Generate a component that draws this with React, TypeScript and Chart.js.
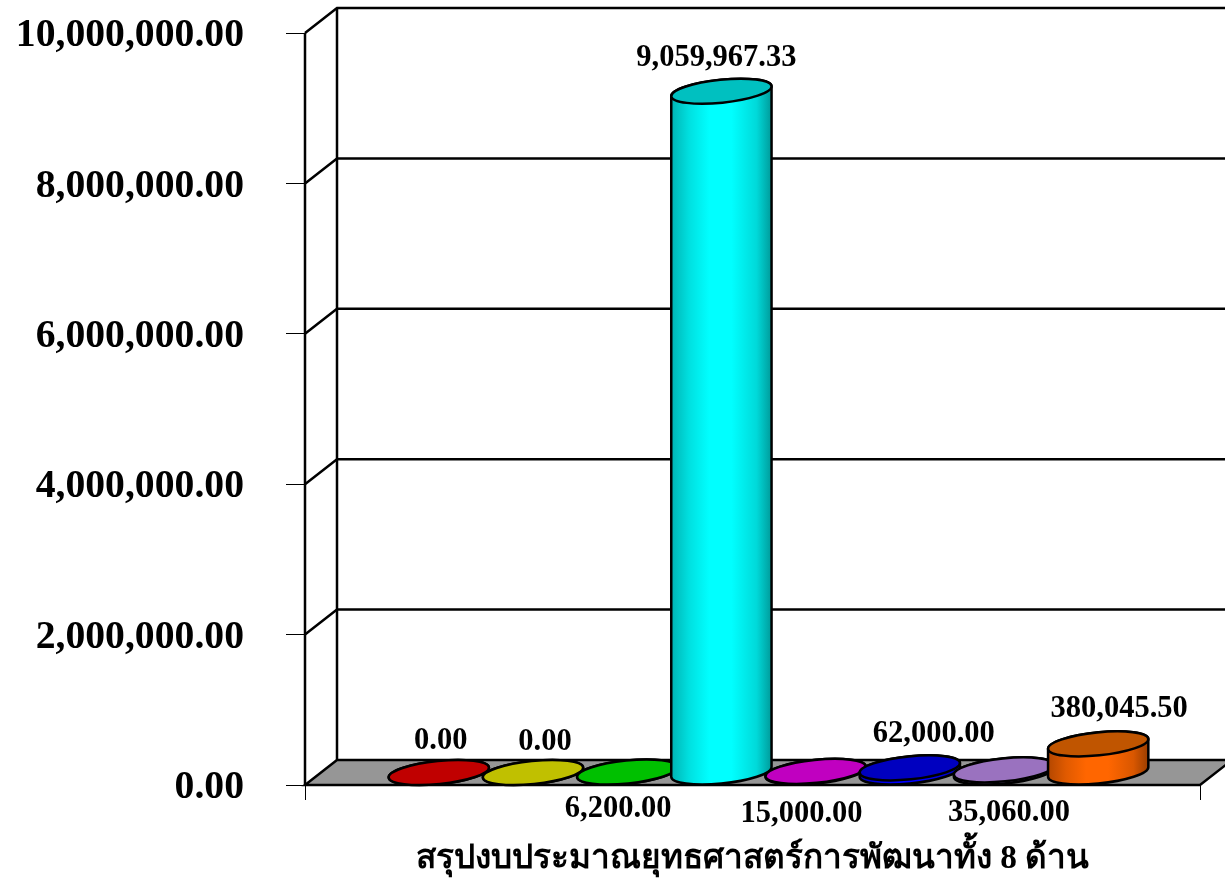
import React, { useEffect, useRef } from "react";
import { Chart, registerables } from "chart.js";

Chart.register(...registerables);

const categories = ["สรุปงบประมาณยุทธศาสตร์การพัฒนาทั้ง 8 ด้าน"];
const seriesNames = ["ด้านที่ 1", "ด้านที่ 2", "ด้านที่ 3", "ด้านที่ 4", "ด้านที่ 5", "ด้านที่ 6", "ด้านที่ 7", "ด้านที่ 8"];
const seriesValues = [0, 0, 6200, 9059967.33, 15000, 62000, 35060, 380045.5];
const sideColors = ["#ff0000", "#ffff00", "#00ff00", "#00ffff", "#ff00ff", "#0000ff", "#cc99ff", "#ff6600"];
const topColors = ["#c00000", "#c0c000", "#00c000", "#00c0c0", "#c000c0", "#0000c0", "#9a72bf", "#c05500"];
// Manual label offsets from the top centre of each cylinder (dx, dy)
const labelOffsets = [[2, -31], [12, -30], [-9, 37], [-5, -33], [-14, 43], [24, -34], [5, 43], [21, -35]];
const tickMax = 10000000;
const tickStep = 2000000;

const SERIF = '"Liberation Serif", "Noto Sans", serif';
const DEPTH_X = 32;
const DEPTH_Y = 25;
const Y_LABEL_SHIFT = 3;

const fmt = (v: number) =>
  v.toLocaleString("en-US", { minimumFractionDigits: 2, maximumFractionDigits: 2 });

function shade(hex: string, f: number) {
  const n = parseInt(hex.slice(1), 16);
  const r = Math.round(((n >> 16) & 255) * f);
  const g = Math.round(((n >> 8) & 255) * f);
  const b = Math.round((n & 255) * f);
  return `rgb(${r},${g},${b})`;
}

const box3d = {
  id: "box3d",
  beforeDraw(chart: any) {
    const items = chart.scales.y.getLabelItems(chart.chartArea);
    if (!items.__shifted) {
      items.forEach((it: any) => {
        it.options.translation[1] += Y_LABEL_SHIFT;
      });
      items.__shifted = true;
    }
  },
  beforeDatasetsDraw(chart: any) {
    const { ctx, scales } = chart;
    const y = scales.y;
    const left = chart.chartArea.left;
    const right = chart.chartArea.right;
    const y0 = y.getPixelForValue(0);
    const yTop = y.getPixelForValue(tickMax);
    ctx.save();
    ctx.strokeStyle = "#000";
    ctx.lineWidth = 2.5;
    ctx.lineJoin = "miter";
    // floor
    ctx.beginPath();
    ctx.moveTo(left, y0);
    ctx.lineTo(left + DEPTH_X, y0 - DEPTH_Y);
    ctx.lineTo(right + DEPTH_X, y0 - DEPTH_Y);
    ctx.lineTo(right, y0);
    ctx.closePath();
    ctx.fillStyle = "#969696";
    ctx.fill();
    ctx.stroke();
    // gridlines on the walls
    for (let v = tickStep; v <= tickMax; v += tickStep) {
      const p = y.getPixelForValue(v);
      ctx.beginPath();
      ctx.moveTo(left, p);
      ctx.lineTo(left + DEPTH_X, p - DEPTH_Y);
      ctx.lineTo(right + DEPTH_X, p - DEPTH_Y);
      ctx.stroke();
    }
    // wall uprights
    ctx.beginPath();
    ctx.moveTo(left, yTop);
    ctx.lineTo(left, y0);
    ctx.moveTo(left + DEPTH_X, yTop - DEPTH_Y);
    ctx.lineTo(left + DEPTH_X, y0 - DEPTH_Y);
    ctx.stroke();
    ctx.restore();
  },
  afterDatasetsDraw(chart: any) {
    const { ctx } = chart;
    const rot = (-5.8 * Math.PI) / 180;
    chart.data.datasets.forEach((ds: any, i: number) => {
      const bar = chart.getDatasetMeta(i).data[0];
      const cx = bar.x + DEPTH_X / 2;
      const rx = bar.width / 2;
      const ry = 11.5;
      const yBase = bar.base - DEPTH_Y / 2;
      const yTop = bar.y - DEPTH_Y / 2;
      const t0 = Math.atan(-(ry / rx) * Math.tan(rot));
      ctx.save();
      ctx.strokeStyle = "#000";
      ctx.lineWidth = 2.5;
      // side of the cylinder
      const g = ctx.createLinearGradient(cx - rx, 0, cx + rx, 0);
      g.addColorStop(0, shade(sideColors[i], 0.7));
      g.addColorStop(0.18, shade(sideColors[i], 0.88));
      g.addColorStop(0.38, shade(sideColors[i], 1));
      g.addColorStop(0.6, shade(sideColors[i], 1));
      g.addColorStop(0.85, shade(sideColors[i], 0.85));
      g.addColorStop(1, shade(sideColors[i], 0.6));
      ctx.beginPath();
      ctx.ellipse(cx, yBase, rx, ry, rot, t0, t0 + Math.PI);
      ctx.ellipse(cx, yTop, rx, ry, rot, t0 + Math.PI, t0 + 2 * Math.PI);
      ctx.closePath();
      ctx.fillStyle = g;
      ctx.fill();
      ctx.stroke();
      // top of the cylinder
      ctx.beginPath();
      ctx.ellipse(cx, yTop, rx, ry, rot, 0, 2 * Math.PI);
      ctx.fillStyle = topColors[i];
      ctx.fill();
      ctx.stroke();
      ctx.restore();
    });
    // value labels
    ctx.save();
    ctx.fillStyle = "#000";
    ctx.font = `bold 30.5px ${SERIF}`;
    ctx.textAlign = "center";
    ctx.textBaseline = "middle";
    chart.data.datasets.forEach((ds: any, i: number) => {
      const bar = chart.getDatasetMeta(i).data[0];
      const cx = bar.x + DEPTH_X / 2;
      const yTop = bar.y - DEPTH_Y / 2;
      ctx.fillText(fmt(ds.data[0]), cx + labelOffsets[i][0], yTop + labelOffsets[i][1]);
    });
    ctx.restore();
  },
};

export default function App() {
  const ref = useRef<HTMLCanvasElement | null>(null);
  useEffect(() => {
    if (!ref.current) return;
    const chart = new Chart(ref.current, {
      type: "bar",
      data: {
        labels: categories,
        datasets: seriesValues.map((v, i) => ({
          label: seriesNames[i],
          data: [v],
          backgroundColor: "transparent",
          borderWidth: 0,
          categoryPercentage: 0.842,
          barPercentage: 1.07,
        })),
      },
      options: {
        responsive: false,
        animation: false,
        devicePixelRatio: 1,
        layout: { padding: { top: 33, right: 25, left: 0, bottom: 0 } },
        plugins: { legend: { display: false }, tooltip: { enabled: false } },
        scales: {
          x: {
            afterFit: (s: any) => {
              s.height = 97;
            },
            border: { display: false },
            grid: { drawOnChartArea: false, tickLength: 15, tickWidth: 1, tickColor: "#000" },
            ticks: {
              color: "#000",
              padding: 39,
              maxRotation: 0,
              font: { family: SERIF, size: 33.3, weight: "bold" },
            },
          },
          y: {
            min: 0,
            max: tickMax,
            afterFit: (s: any) => {
              s.width = 305;
              s.paddingTop = 0;
              s.paddingBottom = 0;
            },
            border: { display: false },
            grid: { drawOnChartArea: false, tickLength: 19, tickWidth: 1, tickColor: "#000" },
            ticks: {
              stepSize: tickStep,
              color: "#000",
              padding: 42,
              font: { family: SERIF, size: 39.7, weight: "bold" },
              callback: (v: any) => fmt(Number(v)),
            },
          },
        },
      } as any,
      plugins: [box3d],
    });
    return () => chart.destroy();
  }, []);
  return (
    <div style={{ position: "fixed", left: 0, top: 0, width: 1225, height: 882, background: "#fff" }}>
      <canvas ref={ref} width={1225} height={882} style={{ display: "block" }} />
    </div>
  );
}
